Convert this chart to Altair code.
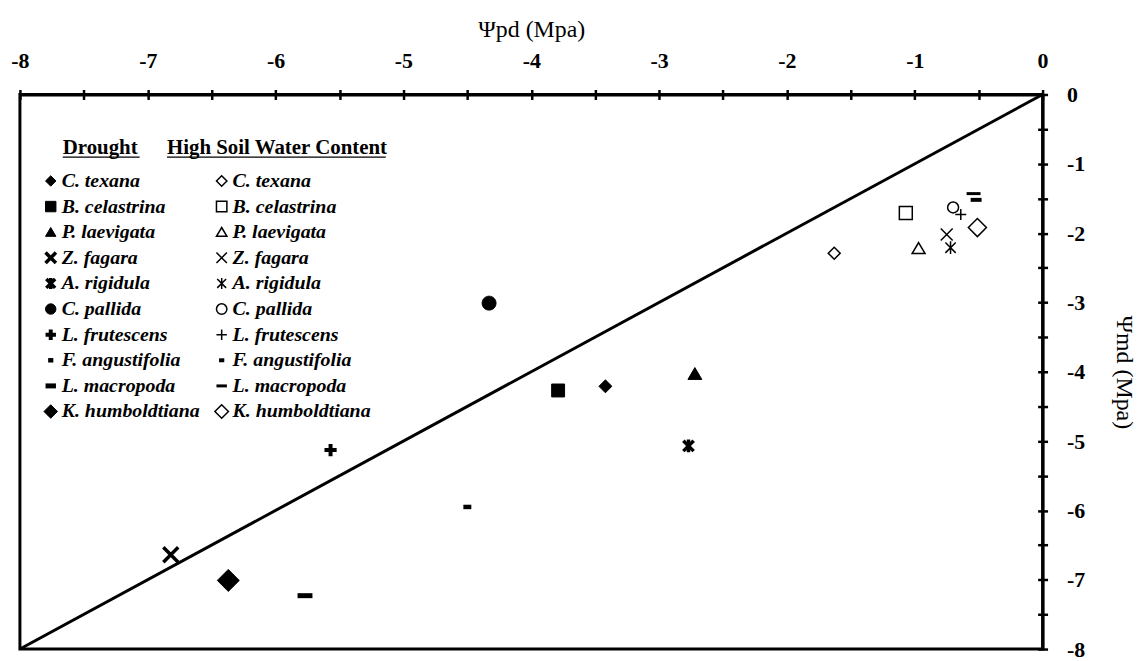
import altair as alt
import pandas as pd

# ---------------- data ----------------
species = ["C. texana", "B. celastrina", "P. laevigata", "Z. fagara", "A. rigidula",
           "C. pallida", "L. frutescens", "F. angustifolia", "L. macropoda", "K. humboldtiana"]
drought_pd = [-3.42, -3.79, -2.72, -6.82, -2.77, -4.33, -5.57, -4.50, -5.77, -6.37]
drought_md = [-4.21, -4.27, -4.03, -6.64, -5.07, -3.01, -5.13, -5.95, -7.23, -7.01]
hswc_pd = [-1.63, -1.07, -0.97, -0.75, -0.72, -0.70, -0.64, -0.52, -0.54, -0.51]
hswc_md = [-2.29, -1.71, -2.22, -2.02, -2.21, -1.63, -1.73, -1.52, -1.43, -1.92]
treatments = ["Drought", "High Soil Water Content"]

line_x = [-8, 0]
line_y = [-8, 0]
tick_values = [-8, -7.5, -7, -6.5, -6, -5.5, -5, -4.5, -4, -3.5, -3, -2.5, -2, -1.5, -1, -0.5, 0]

# ---------------- symbol styles ----------------
DIAMOND = "M0,-1L1,0L0,1L-1,0Z"
BIGDIAMOND = "M0,-1.3L1.3,0L0,1.3L-1.3,0Z"
SQUARE = "M-1,-1L1,-1L1,1L-1,1Z"
TRIANGLE = "M0,-0.9L1,0.8L-1,0.8Z"
XCROSS = "M-1,-1L1,1M-1,1L1,-1"
ASTER = "M-0.85,-0.85L0.85,0.85M-0.85,0.85L0.85,-0.85M0,-1.05L0,1.05"
PLUS = "M-1,0L1,0M0,-1L0,1"
SHORTDASH = "M-0.5,0L0.5,0"
DASH = "M-1,0L1,0"
CIRCLE = "M1,0A1,1,0,1,1,-1,0A1,1,0,1,1,1,0Z"
shapes = [DIAMOND, SQUARE, TRIANGLE, XCROSS, ASTER, CIRCLE, PLUS, SHORTDASH, DASH, BIGDIAMOND]

drought_size = [169, 169, 196, 225, 150, 196, 150, 256, 225, 289]
hswc_size = [144, 169, 169, 144, 150, 121, 121, 484, 196, 196]
drought_sw = [1, 1, 1, 3.5, 3.5, 1, 4, 4.5, 5, 1]
hswc_sw = [1.5, 1.5, 1.5, 1.5, 1.5, 1.5, 1.5, 4, 3, 1.5]

ZW = "\u200b"  # keeps the two treatments as separate scale keys
rows, leg_rows = [], []
for i, name in enumerate(species):
    rows.append({"key": name, "x": drought_pd[i], "y": drought_md[i],
                 "shape": shapes[i], "fill": "black", "size": drought_size[i], "sw": drought_sw[i]})
    rows.append({"key": name + ZW, "x": hswc_pd[i], "y": hswc_md[i],
                 "shape": shapes[i], "fill": "white", "size": hswc_size[i], "sw": hswc_sw[i]})
    leg_rows.append({"key": name, "label": name, "col": 0, "row": i})
    leg_rows.append({"key": name + ZW, "label": name, "col": 1, "row": i})
df = pd.DataFrame(rows)
leg_df = pd.DataFrame(leg_rows)
keys = list(df["key"])
line_df = pd.DataFrame({"x": line_x, "y": line_y})

# legend header layout (in legend column units)
header_df = pd.DataFrame({"text": treatments, "start": [0.07, 0.68], "end": [0.52, 1.96]})

FONT = "Liberation Serif"
xs = alt.Scale(domain=[-8, 0], nice=False, zero=False)
ys = alt.Scale(domain=[-8, 0], nice=False, zero=False)
label_expr = "datum.value % 1 == 0 ? '' + datum.value : ''"

main_x_axis = alt.Axis(orient="top", values=tick_values, labelExpr=label_expr,
                       tickSize=5, tickWidth=2.5, tickColor="black",
                       domainWidth=3, domainColor="black",
                       labelFont=FONT, labelFontSize=22, labelFontWeight="bold", labelColor="black",
                       labelPadding=17, labelFlush=False, labelOverlap=False,
                       title="Ψpd (Mpa)", titleFont=FONT, titleFontSize=24,
                       titleFontWeight="normal", titleColor="black", titlePadding=8, grid=False)
main_y_axis = alt.Axis(orient="right", values=tick_values, labelExpr=label_expr,
                       tickSize=5, tickWidth=2.5, tickColor="black",
                       domainWidth=3, domainColor="black",
                       labelFont=FONT, labelFontSize=22, labelFontWeight="bold", labelColor="black",
                       labelPadding=19, labelFlush=False, labelOverlap=False,
                       title="Ψmd (Mpa)", titleFont=FONT, titleFontSize=24,
                       titleFontWeight="normal", titleColor="black", titlePadding=27, grid=False)
inner_x_axis = alt.Axis(orient="top", values=tick_values, offset=-5, tickSize=5, tickWidth=2.5,
                        tickColor="black", domain=False, labels=False, title=None, grid=False)
inner_y_axis = alt.Axis(orient="right", values=tick_values, offset=-5, tickSize=5, tickWidth=2.5,
                        tickColor="black", domain=False, labels=False, title=None, grid=False)

shape_enc = alt.Shape("key:N", scale=alt.Scale(domain=keys, range=list(df["shape"])), legend=None)
fill_enc = alt.Fill("key:N", scale=alt.Scale(domain=keys, range=list(df["fill"])), legend=None)
sw_enc = alt.StrokeWidth("key:N", scale=alt.Scale(type="ordinal", domain=keys, range=list(df["sw"])),
                         legend=None)

diag = alt.Chart(line_df).mark_line(color="black", strokeWidth=3).encode(
    x=alt.X("x:Q", scale=xs, axis=main_x_axis),
    y=alt.Y("y:Q", scale=ys, axis=main_y_axis),
)

points = alt.Chart(df).mark_point(opacity=1, color="black").encode(
    x=alt.X("x:Q", scale=xs, axis=inner_x_axis),
    y=alt.Y("y:Q", scale=ys, axis=inner_y_axis),
    shape=shape_enc, fill=fill_enc, strokeWidth=sw_enc,
    size=alt.Size("key:N", scale=alt.Scale(type="ordinal", domain=keys, range=list(df["size"])),
                  legend=None),
)

# ---------------- legend (drawn with its own column/row scales) ----------------
lx = alt.Scale(domain=[0, 1], range=[31, 203])
ly = alt.Scale(domain=[0, 9], range=[87, 319])

leg_sym = alt.Chart(leg_df).mark_point(opacity=1, color="black", size=110).encode(
    x=alt.X("col:Q", scale=lx, axis=None),
    y=alt.Y("row:Q", scale=ly, axis=None),
    shape=shape_enc, fill=fill_enc, strokeWidth=sw_enc,
)
leg_txt = alt.Chart(leg_df).mark_text(
    align="left", baseline="middle", dx=11, font=FONT, fontSize=20,
    fontStyle="italic", fontWeight="bold", color="black",
).encode(
    x=alt.X("col:Q", scale=lx, axis=None),
    y=alt.Y("row:Q", scale=ly, axis=None),
    text="label:N",
)
hdr_txt = alt.Chart(header_df).mark_text(
    align="left", baseline="alphabetic", font=FONT, fontSize=21, fontWeight="bold", color="black",
).encode(
    x=alt.X("start:Q", scale=lx, axis=None),
    y=alt.YDatum(-1.05, scale=ly, axis=None),
    text="text:N",
)
hdr_line = alt.Chart(header_df).mark_rule(color="black", strokeWidth=1.5).encode(
    x=alt.X("start:Q", scale=lx, axis=None),
    x2="end:Q",
    y=alt.YDatum(-0.93, scale=ly, axis=None),
)

chart = alt.layer(diag, points, leg_sym, leg_txt, hdr_txt, hdr_line).resolve_scale(
    x="independent", y="independent"
).resolve_axis(
    x="independent", y="independent"
).properties(
    width=1029, height=558,
    autosize=alt.AutoSizeParams(type="none"),
    padding={"left": 12, "top": 85, "right": 96, "bottom": 10},
).configure(
    background="white",
    view=alt.ViewConfig(stroke="black", strokeWidth=3),
)

chart.save("out.html", embed_options={"renderer": "svg", "actions": False})
